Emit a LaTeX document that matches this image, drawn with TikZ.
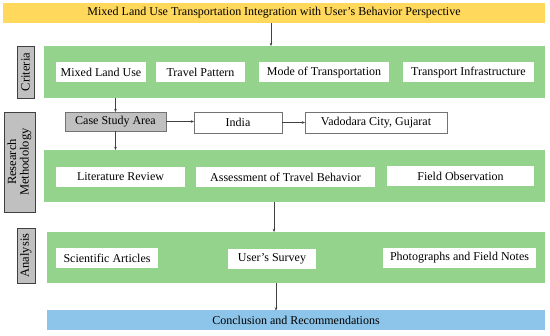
\documentclass[tikz,border=0pt]{standalone}
\usepackage{fontspec}
\setmainfont{Liberation Serif}
\usetikzlibrary{arrows.meta,calc}
\definecolor{titley}{HTML}{FFD85C}
\definecolor{grn}{HTML}{94D38B}
\definecolor{blu}{HTML}{8DC5EA}
\definecolor{lgray}{HTML}{C0C0C0}
\definecolor{arrc}{HTML}{404040}
\begin{document}
\begin{tikzpicture}[x=1pt,y=-1pt,
  band/.style={inner sep=0pt, outer sep=0pt, font=\fontsize{12}{13}\selectfont},
  panel/.style={fill=grn, inner sep=0pt, outer sep=0pt},
  side/.style={fill=lgray, draw=black!75, line width=0.6pt, rotate=90, inner sep=0pt, outer sep=0pt, align=center, font=\fontsize{12.5}{12.5}\selectfont},
  item/.style={fill=white, inner sep=0pt, outer sep=0pt, minimum height=20pt, font=\fontsize{12}{13}\selectfont},
  framed/.style={draw=black!55, line width=0.6pt, inner sep=0pt, outer sep=0pt, minimum height=20pt, font=\fontsize{12}{13}\selectfont},
  arr/.style={draw=arrc, line width=0.6pt, -{Stealth[length=3.2pt,width=2.6pt]}}]
\useasboundingbox (0,0) rectangle (550,336);
% title
\node[band, fill=titley, minimum width=542pt, minimum height=20pt] (title) at (274,13) {Mixed Land Use Transportation Integration with User's Behavior Perspective};
% criteria
\node[panel, minimum width=501pt, minimum height=52pt] (crit) at (294.5,72) {};
\node[side, minimum width=52pt, minimum height=17pt] (critlab) at (25.5,72) {Criteria};
\node[item, minimum width=90pt] (mlu) at (101,72.5) {Mixed Land Use};
\node[item, minimum width=89pt] (tp) at (200.5,72.5) {Travel Pattern};
\node[item, minimum width=130pt] (mot) at (324,72.5) {Mode of Transportation};
\node[item, minimum width=131pt] (ti) at (468.5,72.5) {Transport Infrastructure};
% case study row
\node[framed, fill=lgray, minimum width=101pt, minimum height=19pt] (case) at (115.5,121.5) {Case Study Area};
\node[framed, fill=white, minimum width=88pt, minimum height=21pt] (india) at (238,122.5) {India};
\node[framed, fill=white, minimum width=142pt, minimum height=21pt] (vad) at (376,122.5) {Vadodara City, Gujarat};
% research methodology
\node[panel, minimum width=501pt, minimum height=52pt] (rm) at (294.5,176) {};
\node[side, minimum width=100pt, minimum height=31pt] (rmlab) at (19.5,162) {Research\\Methodology};
\node[item, minimum width=129pt] (lit) at (120.5,177) {Literature Review};
\node[item, minimum width=179pt] (atb) at (285.5,177) {Assessment of Travel Behavior};
\node[item, minimum width=147pt] (fo) at (460.5,176) {Field Observation};
% analysis
\node[panel, minimum width=498pt, minimum height=51pt] (an) at (296,257.5) {};
\node[side, minimum width=55pt, minimum height=18pt] (anlab) at (26,255.5) {Analysis};
\node[item, minimum width=102pt] (sa) at (107,258) {Scientific Articles};
\node[item, minimum width=88pt] (us) at (272,259) {User's Survey};
\node[item, minimum width=153pt] (pf) at (459.5,258) {Photographs and Field Notes};
% conclusion
\node[band, fill=blu, minimum width=498pt, minimum height=20pt] (concl) at (296,320.5) {Conclusion and Recommendations};
% connectors
\draw[arr] ([xshift=-3pt]title.south) -- ([xshift=-3pt]title.south |- crit.north);
\draw[arr] (case.north |- crit.south) -- (case.north);
\draw[arr] (case.east) -- (case.east -| india.west);
\draw[arr] (india.east) -- (india.east -| vad.west);
\draw[arr] (case.south) -- (case.south |- rm.north);
\draw[arr] ([xshift=2pt]us.north |- rm.south) -- ([xshift=2pt]us.north |- an.north);
\draw[arr] ([xshift=4pt]us.south |- an.south) -- ([xshift=4pt]us.south |- concl.north);
\end{tikzpicture}
\end{document}
